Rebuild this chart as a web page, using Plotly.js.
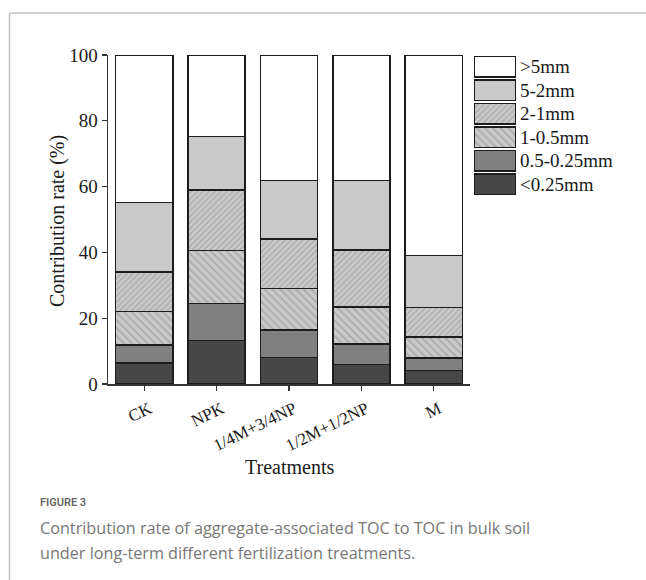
<!DOCTYPE html>
<html>
<head>
<meta charset="utf-8">
<script src="https://cdn.plot.ly/plotly-3.0.1.min.js"></script>
<style>
html,body{margin:0;padding:0;background:#fff;}
#chart{width:646px;height:580px;}
</style>
</head>
<body>
<div id="chart"></div>
<script>
// ---- data ----
const categories = ['CK', 'NPK', '1/4M+3/4NP', '1/2M+1/2NP', 'M'];
const sizeClasses = ['<0.25mm', '0.5-0.25mm', '1-0.5mm', '2-1mm', '5-2mm', '>5mm'];
const lt025   = [6.4, 13.2, 8.1, 6.0, 4.1];
const s05_025 = [5.4, 11.2, 8.3, 6.2, 3.8];
const s1_05   = [10.3, 16.2, 12.6, 11.2, 6.4];
const s2_1    = [12.0, 18.3, 15.0, 17.3, 9.0];
const s5_2    = [21.1, 16.4, 17.9, 21.2, 15.8];
const gt5     = [44.8, 24.7, 38.1, 38.1, 60.9];
const yTicks  = [0, 20, 40, 60, 80, 100];

const seriesValues = [lt025, s05_025, s1_05, s2_1, s5_2, gt5];

// ---- styles ----
const fills    = ['#474747', '#808080', '#c9c9c9', '#c9c9c9', '#c9c9c9', '#ffffff'];
const patterns = ['', '', '\\', '/', '', ''];
const patSizes = [8, 8, 5.5, 4.2, 8, 8];
const serif = 'Liberation Serif, Times New Roman, serif';
const W = 646, H = 580;
const px = v => v / W;
const py = v => (H - v) / H;

function markerFor(i) {
  const m = {color: fills[i], line: {color: '#1c1c1c', width: 1.5}};
  if (patterns[i]) {
    m.pattern = {shape: patterns[i], fillmode: 'overlay', fgcolor: '#8a8a8a',
                 bgcolor: fills[i], size: patSizes[i], solidity: 0.3};
  }
  return m;
}

const traces = [];
sizeClasses.forEach((name, i) => {
  traces.push({
    type: 'bar', name: name, x: categories, y: seriesValues[i],
    width: 0.79, marker: markerFor(i), showlegend: false,
    xaxis: 'x', yaxis: 'y', hoverinfo: 'skip'
  });
});
// legend drawn as a small bar panel (one box per size class)
sizeClasses.forEach((name, i) => {
  traces.push({
    type: 'bar', orientation: 'h', name: name, y: [name], x: [1],
    width: 0.88, marker: markerFor(i), showlegend: false,
    xaxis: 'x2', yaxis: 'y2', hoverinfo: 'skip'
  });
});

const layout = {
  width: W, height: H,
  margin: {l: 0, r: 0, t: 0, b: 0},
  paper_bgcolor: '#fff', plot_bgcolor: 'rgba(0,0,0,0)',
  barmode: 'stack',
  showlegend: false,
  font: {family: serif, color: '#1a1a1a'},
  xaxis: {
    domain: [px(108), px(470)], anchor: 'y',
    type: 'category', range: [-0.5, 4.5],
    showline: true, linecolor: '#333', linewidth: 1.5,
    ticks: 'outside', ticklen: 5, tickwidth: 1.2, tickcolor: '#333',
    tickangle: -26, tickfont: {family: serif, size: 17, color: '#1a1a1a'},
    ticklabelstandoff: 2, ticklabelshift: 5,
    showgrid: false, zeroline: false, automargin: false
  },
  yaxis: {
    domain: [py(384), py(55)], anchor: 'x',
    range: [0, 100], tickvals: yTicks, ticktext: yTicks.map(String),
    showline: true, linecolor: '#333', linewidth: 1.5,
    ticks: 'outside', ticklen: 5, tickwidth: 1.2, tickcolor: '#333',
    tickfont: {family: serif, size: 19, color: '#1a1a1a'},
    showgrid: false, zeroline: false, automargin: false
  },
  xaxis2: {
    domain: [px(474), px(516)], anchor: 'y2', range: [0, 1],
    visible: false, fixedrange: true
  },
  yaxis2: {
    domain: [py(196), py(55)], anchor: 'x2', side: 'right',
    type: 'category', categoryorder: 'array',
    categoryarray: sizeClasses.slice().reverse(),
    autorange: 'reversed',
    showline: false, ticks: '', showgrid: false, zeroline: false,
    ticklabelstandoff: 3,
    tickfont: {family: serif, size: 19, color: '#1a1a1a'},
    automargin: false
  },
  annotations: [
    {text: 'Contribution rate (%)', xref: 'paper', yref: 'paper',
     x: px(57), y: py(221), xanchor: 'center', yanchor: 'middle',
     textangle: -90, showarrow: false,
     font: {family: serif, size: 20, color: '#1a1a1a'}},
    {text: 'Treatments', xref: 'paper', yref: 'paper',
     x: px(289), y: py(467), xanchor: 'center', yanchor: 'middle',
     showarrow: false, font: {family: serif, size: 20, color: '#1a1a1a'}},
    {text: 'FIGURE 3', xref: 'paper', yref: 'paper',
     x: px(38), y: py(502), xanchor: 'left', yanchor: 'middle',
     showarrow: false, font: {family: 'Roboto, sans-serif', size: 11, weight: 600, color: '#666666'}},
    {text: 'Contribution rate of aggregate-associated TOC to TOC in bulk soil',
     xref: 'paper', yref: 'paper',
     x: px(38), y: py(528), xanchor: 'left', yanchor: 'middle',
     showarrow: false, font: {family: 'Open Sans, sans-serif', size: 16.2, color: '#777777'}},
    {text: 'under long-term different fertilization treatments.',
     xref: 'paper', yref: 'paper',
     x: px(38), y: py(553), xanchor: 'left', yanchor: 'middle',
     showarrow: false, font: {family: 'Open Sans, sans-serif', size: 16.2, color: '#777777'}}
  ],
  shapes: [
    {type: 'line', xref: 'paper', yref: 'paper', x0: px(9.5), x1: px(9.5),
     y0: 0, y1: py(13), line: {color: '#c2c2c2', width: 1.5}},
    {type: 'line', xref: 'paper', yref: 'paper', x0: px(9.5), x1: 1,
     y0: py(13), y1: py(13), line: {color: '#c2c2c2', width: 1.5}}
  ]
};

Plotly.newPlot('chart', traces, layout, {displayModeBar: false, staticPlot: true});
</script>
</body>
</html>
